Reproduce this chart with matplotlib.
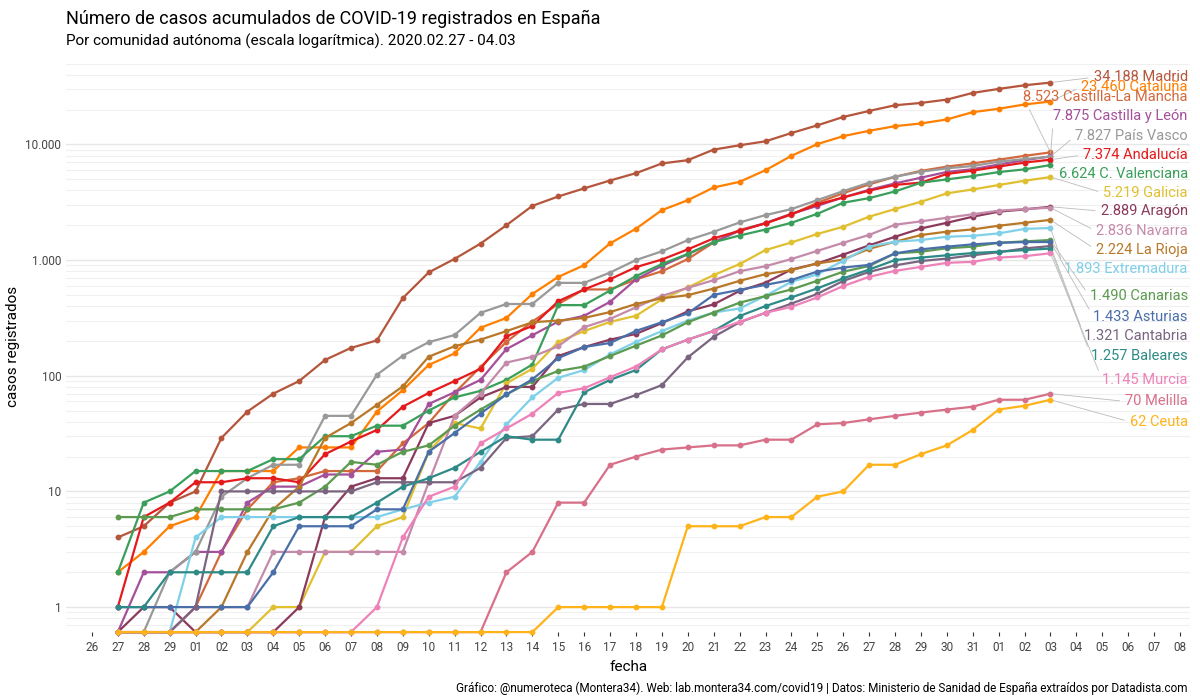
import numpy as np
import matplotlib.pyplot as plt
from matplotlib.ticker import FixedLocator, FuncFormatter, NullFormatter
import datetime as dt

plt.rcParams['font.family'] = ['Roboto', 'DejaVu Sans']

# days from 2020-02-27 to 2020-04-03
start = dt.date(2020, 2, 27)
n_days = 37

madrid = [4, 5, 8, 10, 29, 49, 70, 90, 137, 174, 202, 469, 782, 1024, 1388, 2000, 2940, 3544, 4165, 4871,
          5637, 6840, 7300, 9010, 9820, 10630, 12530, 14600, 17260, 19450, 21780, 22810, 24380, 27860, 30150, 32430, 34188]
cataluna = [2, 3, 5, 6, 15, 15, 15, 24, 24, 24, 49, 75, 124, 156, 260, 316, 509, 715, 903, 1394,
            1866, 2700, 3290, 4240, 4745, 5980, 7960, 10050, 11780, 13100, 14370, 15160, 16420, 19000, 20300, 22130, 23460]
clm = [0, 0, 0, 1, 3, 7, 12, 13, 15, 15, 15, 26, 39, 71, 119, 196, 294, 417, 557, 557, 680, 800, 1020,
       1420, 1820, 2080, 2470, 3130, 3780, 4510, 5250, 5900, 6420, 6850, 7370, 7960, 8523]
cyl = [0, 2, 2, 3, 3, 8, 11, 11, 14, 14, 22, 23, 57, 72, 92, 170, 224, 294, 330, 435, 680, 890, 1120,
       1430, 1790, 2090, 2510, 2940, 3480, 4050, 4600, 5150, 5780, 6100, 6700, 7300, 7875]
pvasco = [0, 0, 2, 3, 9, 13, 17, 17, 45, 45, 102, 149, 195, 225, 350, 417, 417, 635, 635, 780,
          1000, 1190, 1485, 1755, 2113, 2447, 2757, 3297, 3946, 4660, 5250, 5800, 6210, 6500, 7085, 7466, 7827]
andalucia = [1, 6, 8, 12, 12, 13, 13, 12, 21, 27, 34, 54, 71, 90, 115, 219, 269, 441, 557, 683,
             868, 1010, 1236, 1540, 1790, 2075, 2495, 3025, 3480, 3980, 4460, 4670, 5550, 5930, 6425, 6960, 7374]
cvalenciana = [2, 8, 10, 15, 15, 15, 19, 19, 30, 30, 37, 37, 50, 65, 74, 92, 125, 408, 408, 545,
               726, 923, 1130, 1425, 1630, 1836, 2100, 2510, 3130, 3430, 3920, 4660, 4980, 5320, 5760, 6080, 6624]
galicia = [0, 0, 0, 0, 0, 0, 1, 1, 3, 3, 5, 6, 22, 39, 35, 86, 115, 196, 243, 292, 330, 457, 580,
           741, 923, 1220, 1420, 1680, 1940, 2370, 2760, 3190, 3770, 4080, 4450, 4850, 5219]
aragon = [0, 1, 1, 0, 0, 0, 0, 1, 6, 11, 13, 13, 39, 45, 65, 80, 80, 148, 177, 205, 230, 285, 360,
          414, 541, 638, 828, 934, 1115, 1340, 1590, 1875, 2100, 2370, 2620, 2740, 2889]
navarra = [0, 0, 0, 1, 1, 1, 3, 3, 3, 3, 3, 3, 12, 45, 70, 130, 146, 180, 263, 310, 390, 490, 575,
           670, 800, 885, 1020, 1200, 1410, 1650, 2020, 2160, 2320, 2490, 2670, 2760, 2836]
larioja = [0, 0, 0, 0, 1, 3, 7, 11, 29, 39, 56, 81, 146, 180, 205, 243, 290, 300, 316, 355, 417, 467, 497,
           567, 661, 755, 818, 934, 1010, 1250, 1440, 1645, 1760, 1840, 1980, 2100, 2224]
extremadura = [0, 0, 0, 4, 6, 6, 6, 6, 6, 6, 6, 7, 8, 9, 18, 38, 65, 96, 112, 153, 196, 243, 300,
               352, 381, 491, 649, 751, 986, 1305, 1440, 1490, 1590, 1620, 1700, 1860, 1893]
canarias = [6, 6, 6, 7, 7, 7, 7, 8, 11, 18, 17, 22, 25, 37, 51, 69, 90, 110, 120, 148,
            182, 223, 290, 352, 428, 488, 557, 662, 793, 888, 1143, 1180, 1265, 1305, 1410, 1450, 1490]
asturias = [1, 1, 1, 1, 1, 1, 2, 5, 5, 5, 7, 7, 22, 32, 47, 69, 93, 142, 177, 192, 244, 290, 346,
            500, 553, 610, 673, 795, 861, 908, 1143, 1237, 1305, 1367, 1410, 1430, 1433]
cantabria = [0, 0, 0, 1, 10, 10, 10, 10, 10, 10, 12, 12, 12, 12, 16, 29, 30, 51, 57, 57, 68, 83, 144,
             217, 290, 350, 420, 510, 660, 790, 900, 980, 1030, 1100, 1170, 1260, 1321]
baleares = [1, 1, 2, 2, 2, 2, 5, 6, 6, 6, 8, 11, 13, 16, 22, 30, 28, 28, 72, 92, 112, 169, 205,
            244, 328, 400, 475, 569, 694, 828, 1000, 1050, 1100, 1150, 1180, 1220, 1257]
murcia = [0, 0, 0, 0, 0, 0, 0, 0, 0, 0, 1, 4, 9, 11, 26, 35, 47, 71, 78, 97, 120, 169, 205,
          244, 292, 350, 394, 475, 596, 716, 806, 873, 946, 965, 1050, 1080, 1145]
melilla = [0, 0, 0, 0, 0, 0, 0, 0, 0, 0, 0, 0, 0, 0, 0, 2, 3, 8, 8, 17, 20, 23, 24,
           25, 25, 28, 28, 38, 39, 42, 45, 48, 51, 54, 62, 62, 70]
ceuta = [0, 0, 0, 0, 0, 0, 0, 0, 0, 0, 0, 0, 0, 0, 0, 0, 0, 1, 1, 1, 1, 1, 5, 5, 5, 6, 6,
         9, 10, 17, 17, 21, 25, 34, 51, 55, 62]

regions = ['Madrid', 'Cataluña', 'Castilla-La Mancha', 'Castilla y León', 'País Vasco', 'Andalucía',
           'C. Valenciana', 'Galicia', 'Aragón', 'Navarra', 'La Rioja', 'Extremadura', 'Canarias',
           'Asturias', 'Cantabria', 'Baleares', 'Murcia', 'Melilla', 'Ceuta']
series = [madrid, cataluna, clm, cyl, pvasco, andalucia, cvalenciana, galicia, aragon, navarra,
          larioja, extremadura, canarias, asturias, cantabria, baleares, murcia, melilla, ceuta]
colors = ['#b5563c', '#ff7f00', '#d2693c', '#a4509a', '#999999', '#e41a1c', '#3a9f5a', '#e0c030',
          '#8c3a5c', '#c48aaa', '#b87828', '#7fd0e8', '#5c9a50', '#4a6fa8', '#7a6480', '#2e8a86',
          '#ee82b8', '#d8708a', '#ffb31a']
# label heights on the right (data units, spread to avoid overlap)
label_y = [38000, 31500, 25500, 17500, 11800, 8100, 5500, 3800, 2650, 1780, 1230, 830,
           485, 325, 220, 147, 92, 60, 40]

YMIN, YMAX = 0.608, 53400
x = np.arange(n_days)

fig = plt.figure(figsize=(12, 7), dpi=100)
ax = fig.add_axes([0.055, 0.097, 0.937, 0.817])
ax.set_yscale('log')
ax.set_xlim(-2.0, 41.4)
ax.set_ylim(YMIN, YMAX)

for name, vals, c, ly in zip(regions, series, colors, label_y):
    v = np.clip(np.array(vals, dtype=float), YMIN, None)
    ax.plot(x, v, color=c, lw=1.6, marker='o', ms=3.2, zorder=3, clip_on=False)
    last = vals[-1]
    txt = f'{last:,}'.replace(',', '.') + ' ' + name
    ax.annotate(txt, xy=(x[-1], last), xytext=(41.3, ly), ha='right', va='center',
                fontsize=10.5, color=c,
                arrowprops=dict(arrowstyle='-', color='#bbbbbb', lw=0.6, shrinkA=2, shrinkB=2,
                                relpos=(0, 0.5)))

ax.yaxis.set_major_locator(FixedLocator([1, 10, 100, 1000, 10000]))
ax.yaxis.set_major_formatter(FuncFormatter(lambda v, p: f'{int(v):,}'.replace(',', '.')))
ax.yaxis.set_minor_formatter(NullFormatter())
ax.grid(True, which='major', axis='y', color='#e6e6e6', lw=1.0)
ax.grid(True, which='minor', axis='y', color='#f0f0f0', lw=0.8)

ticks = np.arange(-1, 42)
ax.set_xticks(ticks)
ax.set_xticklabels([(start + dt.timedelta(days=int(t))).strftime('%d') for t in ticks])
ax.tick_params(axis='x', length=3, color='#333333', labelsize=8.5, labelcolor='#444444')
ax.tick_params(axis='y', which='both', length=0, labelsize=8.5, labelcolor='#444444')
for s in ax.spines.values():
    s.set_visible(False)

ax.set_xlabel('fecha', fontsize=11)
ax.set_ylabel('casos registrados', fontsize=11)

fig.text(0.055, 0.965, 'Número de casos acumulados de COVID-19 registrados en España', fontsize=13)
fig.text(0.055, 0.935, 'Por comunidad autónoma (escala logarítmica). 2020.02.27 - 04.03', fontsize=11)
fig.text(0.99, 0.012, 'Gráfico: @numeroteca (Montera34). Web: lab.montera34.com/covid19 | '
         'Datos: Ministerio de Sanidad de España extraídos por Datadista.com', ha='right', fontsize=8.5)

fig.savefig('out.png', dpi=100)
